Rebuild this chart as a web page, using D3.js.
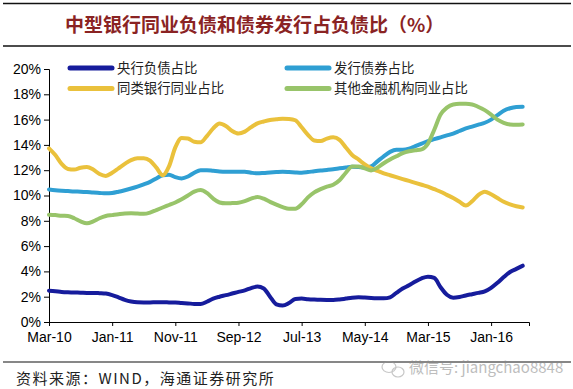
<!DOCTYPE html>
<html>
<head>
<meta charset="utf-8">
<script src="https://cdn.jsdelivr.net/npm/d3@7"></script>
<style>
  html, body { margin: 0; padding: 0; background: #fff; }
  svg { display: block; }
</style>
</head>
<body>
<svg id="chart" width="573" height="389"></svg>
<script>
// ---- Data (monthly, Mar-10 .. Jun-16) ----
const seriesNames = ["央行负债占比", "发行债券占比", "同类银行同业占比", "其他金融机构同业占比"];
const seriesColors = ["#161c9c", "#2f9fd3", "#eac13c", "#98c46a"];
const tickLabels = ["Mar-10", "Jan-11", "Nov-11", "Sep-12", "Jul-13", "May-14", "Mar-15", "Jan-16"];
const yTickValues = [0, 2, 4, 6, 8, 10, 12, 14, 16, 18, 20];

const centralBank = [2.47, 2.43, 2.38, 2.35, 2.33, 2.32, 2.3, 2.3, 2.28, 2.25,
  2.13, 1.95, 1.75, 1.62, 1.56, 1.55, 1.55, 1.56, 1.56, 1.55,
  1.54, 1.5, 1.47, 1.43, 1.42, 1.6, 1.85, 2.0, 2.12, 2.25,
  2.38, 2.5, 2.68, 2.8, 2.65, 2.0, 1.4, 1.3, 1.5, 1.82,
  1.85, 1.8, 1.77, 1.75, 1.74, 1.74, 1.78, 1.85, 1.92, 1.95,
  1.93, 1.9, 1.88, 1.87, 1.95, 2.3, 2.65, 2.9, 3.2, 3.45,
  3.58, 3.48, 2.75, 2.15, 1.92, 1.98, 2.1, 2.2, 2.3, 2.42,
  2.7, 3.1, 3.55, 3.95, 4.2, 4.45];

const bondIssue = [10.48, 10.42, 10.38, 10.35, 10.32, 10.3, 10.27, 10.23, 10.2, 10.17,
  10.2, 10.3, 10.42, 10.55, 10.7, 10.88, 11.08, 11.35, 11.6, 11.65,
  11.45, 11.35, 11.5, 11.8, 12.0, 12.0, 11.95, 11.9, 11.88, 11.88,
  11.88, 11.88, 11.8, 11.75, 11.78, 11.82, 11.85, 11.87, 11.85, 11.82,
  11.8, 11.85, 11.92, 11.98, 12.02, 12.07, 12.15, 12.22, 12.28, 12.25,
  12.2, 12.3, 12.7, 13.1, 13.45, 13.62, 13.62, 13.7, 13.9, 14.1,
  14.3, 14.45, 14.6, 14.75, 14.9, 15.1, 15.3, 15.45, 15.6, 15.75,
  16.0, 16.35, 16.7, 16.9, 17.0, 17.02];

const sameBank = [13.73, 13.2, 12.5, 12.1, 12.05, 12.2, 12.25, 12.05, 11.7, 11.55,
  11.8, 12.15, 12.5, 12.8, 12.95, 12.95, 12.75, 12.2, 11.6, 12.3,
  13.8, 14.55, 14.5, 14.25, 14.2, 14.7, 15.3, 15.7, 15.5, 15.1,
  14.9, 15.05, 15.4, 15.7, 15.85, 15.97, 16.02, 16.07, 16.05, 15.95,
  15.4, 14.8, 14.35, 14.3, 14.5, 14.6, 14.4, 13.8, 13.2, 12.85,
  12.45, 12.15, 11.95, 11.75, 11.6, 11.45, 11.3, 11.15, 11.0, 10.85,
  10.7, 10.5, 10.3, 10.05, 9.8, 9.5, 9.2, 9.55, 10.05, 10.3,
  10.1, 9.8, 9.5, 9.3, 9.15, 9.05];

const otherFin = [8.48, 8.45, 8.4, 8.38, 8.2, 7.95, 7.8, 7.95, 8.2, 8.38,
  8.45, 8.52, 8.58, 8.6, 8.58, 8.55, 8.65, 8.85, 9.05, 9.25,
  9.45, 9.7, 10.0, 10.3, 10.43, 10.2, 9.75, 9.45, 9.38, 9.4,
  9.43, 9.55, 9.75, 9.88, 9.75, 9.5, 9.28, 9.08, 8.95, 8.95,
  9.3, 9.85, 10.25, 10.5, 10.7, 10.85, 11.2, 11.8, 12.3, 12.3,
  12.15, 11.98, 12.2, 12.55, 12.85, 13.1, 13.35, 13.5, 13.58, 13.65,
  14.1, 15.2, 16.4, 16.95, 17.2, 17.25, 17.25, 17.2, 17.0, 16.75,
  16.4, 16.0, 15.75, 15.62, 15.6, 15.62];

const seriesValues = [centralBank, bondIssue, sameBank, otherFin];

// ---- Drawing ----
const svg = d3.select("#chart");
const latin = "'Liberation Sans', Arial, sans-serif";
const cjk = "'Noto Sans CJK SC', 'Liberation Sans', sans-serif";

// header rules and title
svg.append("line").attr("x1", 3).attr("x2", 571).attr("y1", 3.5).attr("y2", 3.5)
  .attr("stroke", "#111").attr("stroke-width", 1.5);
svg.append("line").attr("x1", 3).attr("x2", 571).attr("y1", 46).attr("y2", 46)
  .attr("stroke", "#111").attr("stroke-width", 1.5);
svg.append("text").attr("x", 65).attr("y", 32)
  .attr("font-family", cjk).attr("font-size", 19).attr("font-weight", 700)
  .attr("fill", "#8a2323").text("中型银行同业负债和债券发行占负债比（%）");

const x = d3.scaleLinear().domain([0, 76]).range([49, 529]);
const y = d3.scaleLinear().domain([0, 20]).range([322, 69]);

// axes
const yAxis = d3.axisLeft(y).tickValues(yTickValues).tickSize(5).tickPadding(3)
  .tickFormat(d => d + "%");
const gy = svg.append("g").attr("transform", "translate(49,0)").call(yAxis);
gy.selectAll("text").attr("font-family", latin).attr("font-size", 14).attr("fill", "#000");
gy.select(".domain").attr("stroke", "#000");
gy.selectAll(".tick line").attr("stroke", "#000");

const xAxis = d3.axisBottom(x).tickValues(tickLabels.map((d, i) => i * 10))
  .tickSize(4).tickPadding(6).tickFormat((d, i) => tickLabels[i]);
const gx = svg.append("g").attr("transform", "translate(0,322)").call(xAxis);
gx.selectAll("text").attr("font-family", latin).attr("font-size", 14).attr("fill", "#000");
gx.select(".domain").attr("stroke", "#000");
gx.selectAll(".tick line").attr("stroke", "#000");

// lines
const line = d3.line().x((d, i) => x(i)).y(d => y(d)).curve(d3.curveMonotoneX);
seriesValues.forEach((vals, k) => {
  svg.append("path").datum(vals).attr("d", line)
    .attr("fill", "none").attr("stroke", seriesColors[k])
    .attr("stroke-width", 4).attr("stroke-linejoin", "round").attr("stroke-linecap", "round");
});

// legend
const legendPos = [[70, 68], [287, 68], [70, 88.5], [287, 88.5]];
seriesNames.forEach((name, k) => {
  const [lx, ly] = legendPos[k];
  svg.append("line").attr("x1", lx).attr("x2", lx + 42).attr("y1", ly).attr("y2", ly)
    .attr("stroke", seriesColors[k]).attr("stroke-width", 5).attr("stroke-linecap", "round");
  svg.append("text").attr("x", lx + 47).attr("y", ly + 4.5)
    .attr("font-family", cjk).attr("font-size", 13.4).attr("fill", "#222").text(name);
});

// footer
svg.append("line").attr("x1", 3).attr("x2", 571).attr("y1", 362).attr("y2", 362)
  .attr("stroke", "#111").attr("stroke-width", 1.2);
svg.append("text").attr("x", 16).attr("y", 384)
  .attr("font-family", cjk).attr("font-size", 15).attr("letter-spacing", 1.5).attr("fill", "#222")
  .text("资料来源：WIND，海通证券研究所");

// watermark
const wm = svg.append("g").attr("opacity", 0.55);
wm.append("ellipse").attr("cx", 389).attr("cy", 367).attr("rx", 7).attr("ry", 5.5)
  .attr("fill", "none").attr("stroke", "#999").attr("stroke-width", 1.2);
wm.append("ellipse").attr("cx", 398).attr("cy", 372).attr("rx", 6).attr("ry", 5)
  .attr("fill", "none").attr("stroke", "#999").attr("stroke-width", 1.2);
wm.append("text").attr("x", 409).attr("y", 373)
  .attr("font-family", cjk).attr("font-size", 15).attr("fill", "#888")
  .text("微信号: jiangchao8848");
</script>
</body>
</html>
